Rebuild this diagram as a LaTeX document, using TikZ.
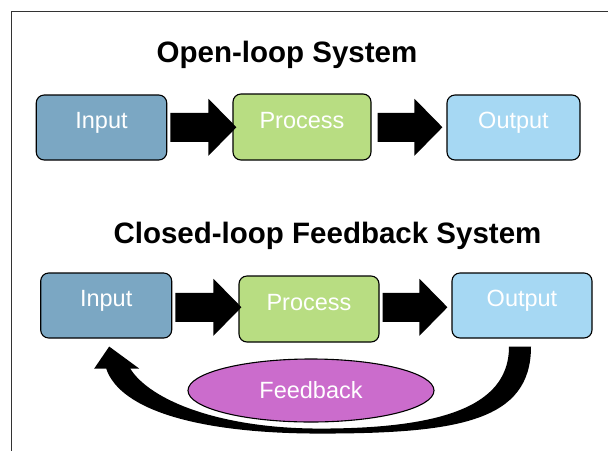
\documentclass[tikz,border=0pt]{standalone}
\usepackage{fontspec}
\setmainfont{Liberation Sans}
\usetikzlibrary{calc,shapes.geometric}
\definecolor{inputc}{HTML}{7BA7C3}
\definecolor{procc}{HTML}{B8DD82}
\definecolor{outc}{HTML}{A6D8F3}
\definecolor{fbc}{HTML}{CB6CCC}
\definecolor{framec}{HTML}{333333}
\tikzset{
  boxnode/.style={draw=black, line width=1.1pt, rounded corners=8pt, inner sep=0pt,
    text=white, font=\fontsize{23.5}{27}\selectfont, text height=2pt, text depth=0pt},
  fbnode/.style={ellipse, draw=black, line width=1.1pt, fill=fbc, inner sep=0pt,
    text=white, font=\fontsize{23.5}{27}\selectfont, text height=15pt, text depth=0pt,
    minimum width=246pt, minimum height=63pt},
  titlenode/.style={anchor=base, inner sep=0pt, font=\fontsize{29.5}{34}\selectfont\bfseries},
  arrowfill/.style={fill=black}
}
\newcommand\blockarr[2]{%
  \fill[arrowfill] let \p1=(#1), \p2=(#2), \p3=($(#1)!0.5!(#2)$) in
  (\x1,\y3+14.5pt) -- (\x2-28pt,\y3+14.5pt) -- (\x2-28pt,\y3+28.5pt) -- (\x2,\y3)
  -- (\x2-28pt,\y3-28.5pt) -- (\x2-28pt,\y3-14.5pt) -- (\x1,\y3-14.5pt) -- cycle;}
\begin{document}
\begin{tikzpicture}[x=1pt,y=-1pt]
\useasboundingbox (0,0) rectangle (608,451);
\fill[white] (0,0) rectangle (608,451);
\draw[framec, line width=1pt] (608,11) -- (11,11) -- (11,451);

% titles
\node[titlenode] (t1) at (287,62) {Open-loop System};
\node[titlenode] (t2) at (327.5,243) {Closed-loop Feedback System};

% open loop
\node[boxnode, fill=inputc, minimum width=130.5pt, minimum height=65pt] (in1) at (101.5,127.5) {Input};
\node[boxnode, fill=procc, minimum width=138pt, minimum height=66pt] (pr1) at (302,127) {Process};
\node[boxnode, fill=outc, minimum width=133pt, minimum height=65pt] (out1) at (513.5,127.5) {Output};

% closed loop
\node[boxnode, fill=inputc, minimum width=131pt, minimum height=65pt] (in2) at (106.2,305.5) {Input};
\node[boxnode, fill=procc, minimum width=140pt, minimum height=66pt] (pr2) at (309,309) {Process};
\node[boxnode, fill=outc, minimum width=140pt, minimum height=65pt] (out2) at (522,305.5) {Output};
\node[fbnode] (fb) at (311,390.5) {Feedback};

% block arrows
\coordinate (a1s) at ([xshift=3pt]in1.east);
\coordinate (a1e) at ([xshift=4pt]pr1.west);
\coordinate (a2s) at ([xshift=6pt]pr1.east);
\coordinate (a2e) at ([xshift=-4pt]out1.west);
\coordinate (b1s) at ([xshift=3pt]in2.east);
\coordinate (b1e) at ([xshift=3pt]pr2.west);
\coordinate (b2s) at ([xshift=3pt]pr2.east);
\coordinate (b2e) at ([xshift=-4pt]out2.west);
\blockarr{a1s}{a1e}
\blockarr{a2s}{a2e}
\blockarr{b1s}{b1e}
\blockarr{b2s}{b2e}

% curved feedback arrow
\coordinate (fbT) at ([shift={(-2,8)}]out2.south);
\coordinate (fbH) at ([shift={(3,8)}]in2.south);
\fill[arrowfill] ([shift={(11,0)}]fbT)
  .. controls ([shift={(11,74)}]fbT) and ([shift={(-60,87)}]fbT) .. ([shift={(-200,87)}]fbT)
  .. controls ([shift={(91,87)}]fbH) and ([shift={(11,64)}]fbH) .. ([shift={(-3,22)}]fbH)
  -- ([shift={(-15,22)}]fbH) -- (fbH) -- ([shift={(30,22)}]fbH) -- ([shift={(21,22)}]fbH)
  .. controls ([shift={(41,54)}]fbH) and ([shift={(111,82)}]fbH) .. ([shift={(-200,82)}]fbT)
  .. controls ([shift={(-65,82)}]fbT) and ([shift={(-11,54)}]fbT) .. ([shift={(-11,0)}]fbT)
  -- cycle;
\end{tikzpicture}
\end{document}
